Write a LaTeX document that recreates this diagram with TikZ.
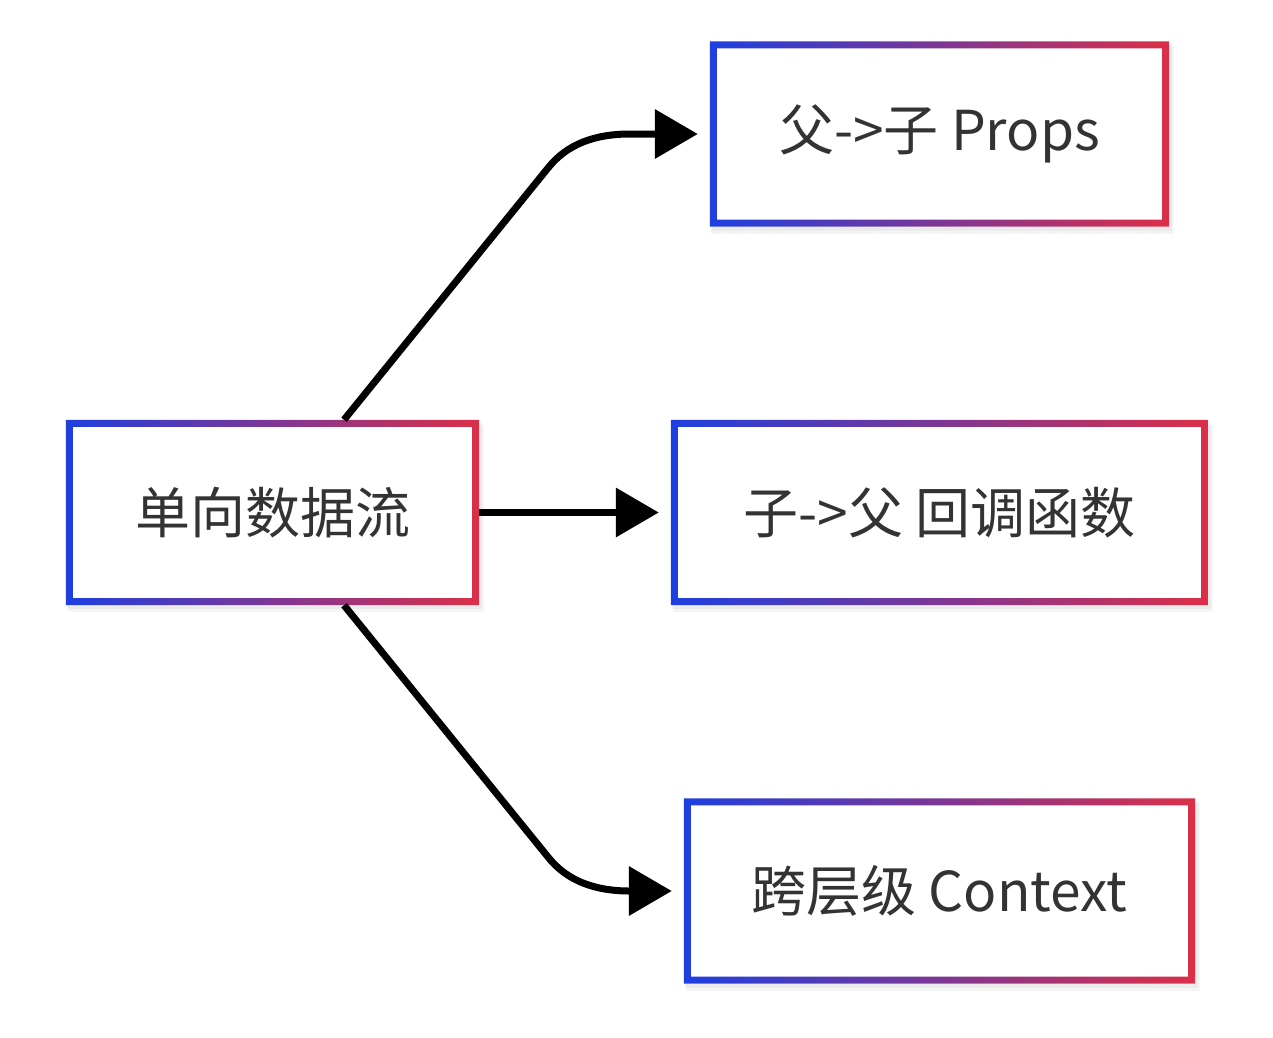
\documentclass[tikz,border=0pt]{standalone}
\usepackage{fontspec}
\setmainfont{Noto Sans CJK SC}
\usetikzlibrary{arrows.meta,backgrounds}

\definecolor{edgeblue}{HTML}{1E3FE0}
\definecolor{edgered}{HTML}{DC2F48}
\definecolor{textgray}{HTML}{333333}

\begin{document}
\begin{tikzpicture}
[x=1pt,y=-1pt,
flow/.style={line width=7pt,-{Triangle[length=43pt,width=48pt]},shorten >=12pt},
flowbox/.style={rectangle,inner sep=0pt,minimum height=185pt,text=textgray,
  font=\fontsize{55}{66}\selectfont}]
\useasboundingbox (0,0) rectangle (1273,1037);

\node[flowbox,minimum width=413pt] at (272.5,512.5) (src)   {单向数据流};
\node[flowbox,minimum width=459pt] at (939.5,134)   (props) {父->子 Props};
\node[flowbox,minimum width=537pt] at (939.5,512.5) (cb)    {子->父 回调函数};
\node[flowbox,minimum width=511pt] at (939.5,891)   (ctx)   {跨层级 Context};

% soft shadow and gradient frame
\begin{scope}[on background layer]
\foreach \n in {src,props,cb,ctx} {
  \fill[black,opacity=0.04] ([xshift=2pt,yshift=-5pt]\n.north west) rectangle ([xshift=5pt,yshift=-7pt]\n.south east);
  \fill[black,opacity=0.04] ([xshift=1pt,yshift=-3pt]\n.north west) rectangle ([xshift=3pt,yshift=-4pt]\n.south east);
  \fill[white] (\n.north west) rectangle (\n.south east);
  \shade[left color=edgeblue,right color=edgered,even odd rule]
    (\n.north west) rectangle (\n.south east)
    ([xshift=7pt,yshift=-7pt]\n.north west) rectangle ([xshift=-7pt,yshift=7pt]\n.south east);
}
\end{scope}

\draw[flow] ([xshift=71.5pt]src.north) -- (548,168) .. controls (567,144) and (595,134) .. (630,134) -- (props.west);
\draw[flow] (src.east) -- (cb.west);
\draw[flow] ([xshift=71.5pt]src.south) -- (548,857) .. controls (567,881) and (595,891) .. (630,891) -- (ctx.west);
\end{tikzpicture}
\end{document}
